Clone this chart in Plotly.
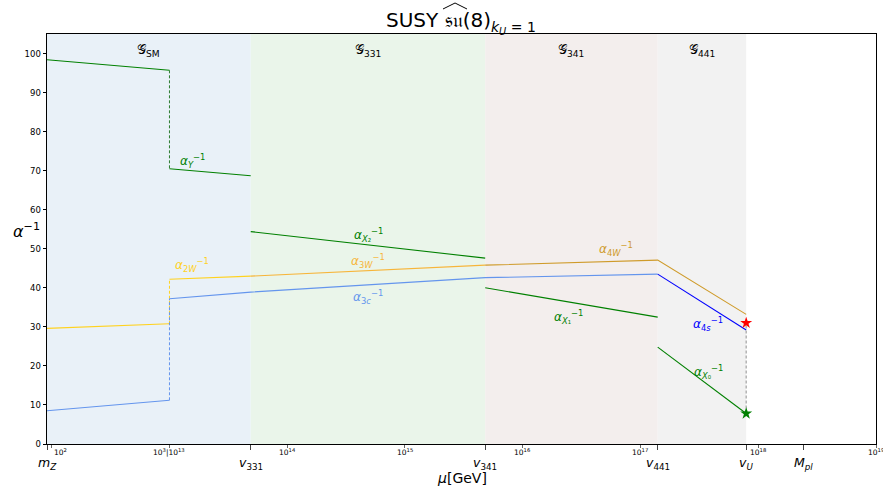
import numpy as np
import plotly.graph_objects as go

# ---- scales (GeV) ----
MZ = 91.19
V331 = 4.9e13
V341 = 4.8e15
V441 = 1.4e17
VU = 7.9e17
MPL = 2.4e18

named_ticks = [MZ, V331, V341, V441, VU, MPL]
named_text = ["<i>m</i><sub><i>Z</i></sub>", "<i>v</i><sub>331</sub>", "<i>v</i><sub>341</sub>",
              "<i>v</i><sub>441</sub>", "<i>v</i><sub><i>U</i></sub>", "<i>M</i><sub><i>pl</i></sub>"]
num_ticks = [1e2, 1e3, 1e14, 1e15, 1e16, 1e17, 1e18, 1e19]
num_text = ["10<sup>2</sup>", "10<sup>3</sup>|10<sup>13</sup>", "10<sup>14</sup>", "10<sup>15</sup>",
            "10<sup>16</sup>", "10<sup>17</sup>", "10<sup>18</sup>", "10<sup>19</sup>"]

# ---- running inverse couplings ----
aY_low_mu, aY_low = [MZ, 1e3], [98.4, 95.7]
aY_jump_mu, aY_jump = [1e3, 1e13], [95.7, 70.5]
aY_high_mu, aY_high = [1e13, V331], [70.5, 68.7]

a2W_low_mu, a2W_low = [MZ, 1e3], [29.6, 30.8]
a2W_jump_mu, a2W_jump = [1e3, 1e13], [30.8, 42.2]
a2W_high_mu, a2W_high = [1e13, V331], [42.2, 43.0]
a3W_mu, a3W = [V331, V341], [43.0, 45.8]
a4W_mu, a4W = [V341, V441, VU], [45.8, 47.1, 33.2]

a3c_low_mu, a3c_low = [MZ, 1e3], [8.5, 11.2]
a3c_jump_mu, a3c_jump = [1e3, 1e13], [11.2, 37.2]
a3c_high_mu, a3c_high = [1e13, V331, V341, V441], [37.2, 38.9, 42.6, 43.5]
a4s_mu, a4s = [V441, VU], [43.5, 29.2]

aX2_mu, aX2 = [V331, V341], [54.4, 47.6]
aX1_mu, aX1 = [V341, V441], [40.0, 32.5]
aX0_mu, aX0 = [V441, VU], [24.8, 7.8]

alphaU_4s = 31.0
alphaU_X0 = 7.8

regions = [MZ, V331, V341, V441, VU]
region_names = ["𝒢<sub>SM</sub>", "𝒢<sub>331</sub>", "𝒢<sub>341</sub>", "𝒢<sub>441</sub>"]
region_colors = ["#e9f1f8", "#eaf5ea", "#f3eeed", "#f2f2f2"]


def tx(mu):
    l = np.log10(np.asarray(mu, dtype=float))
    return np.where(l <= 3.0001, l, l - 10)


FONT = "DejaVu Sans"
GREEN = "green"
GOLD = "#ffd21f"
ORANGE = "#f7b53a"
GOLDENROD = "#cf9b2a"
CBLUE = "cornflowerblue"

fig = go.Figure()


def line(mu, y, color, dash="solid", width=1.1):
    fig.add_trace(go.Scatter(x=tx(mu), y=y, mode="lines",
                             line=dict(color=color, width=width, dash=dash),
                             showlegend=False, hoverinfo="skip"))


line(aY_low_mu, aY_low, GREEN)
line(aY_jump_mu, aY_jump, "#2e7d32", dash="3px,2px", width=1)
line(aY_high_mu, aY_high, GREEN)
line(a2W_low_mu, a2W_low, GOLD)
line(a2W_jump_mu, a2W_jump, GOLD, dash="3px,2px", width=1)
line(a2W_high_mu, a2W_high, GOLD)
line(a3W_mu, a3W, ORANGE)
line(a4W_mu, a4W, GOLDENROD)
line(a3c_low_mu, a3c_low, CBLUE)
line(a3c_jump_mu, a3c_jump, CBLUE, dash="3px,2px", width=1)
line(a3c_high_mu, a3c_high, CBLUE)
line(a4s_mu, a4s, "blue")
line(aX2_mu, aX2, GREEN)
line(aX1_mu, aX1, GREEN)
line(aX0_mu, aX0, GREEN)
line([VU, VU], [alphaU_X0, alphaU_4s], "darkgray", dash="3px,2px", width=1.3)

fig.add_trace(go.Scatter(x=tx([VU]), y=[alphaU_4s], mode="markers",
                         marker=dict(symbol="star", size=9, color="red"),
                         showlegend=False, hoverinfo="skip"))
fig.add_trace(go.Scatter(x=tx([VU]), y=[alphaU_X0], mode="markers",
                         marker=dict(symbol="star", size=9, color="green"),
                         showlegend=False, hoverinfo="skip"))

# regions
rt = tx(regions)
for i in range(4):
    fig.add_shape(type="rect", xref="x", yref="paper", x0=rt[i], x1=rt[i + 1], y0=0, y1=1,
                  fillcolor=region_colors[i], line=dict(width=0), layer="below")
    fig.add_annotation(x=(rt[i] + rt[i + 1]) / 2, y=100.8, xref="x", yref="y",
                       text=region_names[i], showarrow=False,
                       font=dict(family=FONT, size=13, color="black"))

# curve labels: (text, mu, y, color)
labels = [
    ("<i>α</i><sub><i>Y</i></sub><sup>−1</sup>", 10 ** 13.195, 72.6, GREEN),
    ("<i>α</i><sub>2<i>W</i></sub><sup>−1</sup>", 10 ** 13.195, 45.8, GOLD),
    ("<i>α</i><sub><i>X</i>₂</sub><sup>−1</sup>", 10 ** 14.69, 53.5, GREEN),
    ("<i>α</i><sub>3<i>W</i></sub><sup>−1</sup>", 10 ** 14.69, 46.8, ORANGE),
    ("<i>α</i><sub>3<i>c</i></sub><sup>−1</sup>", 10 ** 14.69, 37.6, CBLUE),
    ("<i>α</i><sub>4<i>W</i></sub><sup>−1</sup>", 10 ** 16.795, 49.9, GOLDENROD),
    ("<i>α</i><sub><i>X</i>₁</sub><sup>−1</sup>", 10 ** 16.387, 32.5, GREEN),
    ("<i>α</i><sub>4<i>s</i></sub><sup>−1</sup>", 10 ** 17.576, 30.7, "blue"),
    ("<i>α</i><sub><i>X</i>₀</sub><sup>−1</sup>", 10 ** 17.576, 18.4, GREEN),
]
for text, mu, y, c in labels:
    fig.add_annotation(x=float(tx(mu)), y=y, xref="x", yref="y", text=text, showarrow=False,
                       font=dict(family=FONT, size=12, color=c))

# x tick labels
for mu, t in zip(num_ticks, num_text):
    fig.add_annotation(x=float(tx(mu)), y=0, xref="x", yref="paper", text=t, showarrow=False,
                       yanchor="top", yshift=-1, xanchor="left" if mu == 1e2 else "center",
                       font=dict(family=FONT, size=7.5, color="black"))
for mu, t in zip(named_ticks, named_text):
    fig.add_annotation(x=float(tx(mu)), y=0, xref="x", yref="paper", text=t, showarrow=False,
                       yanchor="top", yshift=-9,
                       font=dict(family=FONT, size=12.5, color="black"))

fig.add_annotation(x=0.5, y=0, xref="paper", yref="paper", text="<i>μ</i>[GeV]", showarrow=False,
                   yanchor="middle", yshift=-34, font=dict(family=FONT, size=14, color="black"))
fig.add_annotation(x=0, y=0.52, xref="paper", yref="paper", text="<i>α</i><sup>−1</sup>",
                   showarrow=False, xanchor="right", xshift=-5,
                   font=dict(family=FONT, size=16, color="black"))

# wide hat over the su in the title
fig.add_shape(type="path", xref="paper", yref="paper",
              path="M {:.4f} {:.4f} L {:.4f} {:.4f} L {:.4f} {:.4f}".format(
                  (443 - 47) / 829, (444 - 9) / 410, (455 - 47) / 829, (444 - 3) / 410,
                  (467 - 47) / 829, (444 - 9) / 410),
              line=dict(color="black", width=1))

fig.update_layout(
    width=883, height=486,
    margin=dict(l=47, r=7, t=34, b=42),
    plot_bgcolor="white", paper_bgcolor="white",
    font=dict(family=FONT, color="black"),
    title=dict(text="SUSY 𝔰𝔲(8)<sub><i>k</i><sub><i>U</i></sub> = 1</sub>", x=0.522, xanchor="center",
               y=0.958, yanchor="middle", font=dict(family=FONT, size=20, color="black")),
    xaxis=dict(range=[float(tx(MZ)), 9], showgrid=False, zeroline=False,
               showline=True, linecolor="black", linewidth=1, mirror=True,
               tickmode="array", tickvals=tx(named_ticks).tolist(), ticktext=[""] * 6,
               ticks="outside", ticklen=5, tickcolor="#444", tickwidth=1,
               minor=dict(tickmode="array", tickvals=tx(num_ticks).tolist(), ticks="outside",
                          ticklen=2.5, tickcolor="#666", tickwidth=0.8)),
    yaxis=dict(range=[0, 105], showgrid=False, zeroline=False,
               showline=True, linecolor="black", linewidth=1, mirror=True,
               tickmode="array", tickvals=list(range(0, 101, 10)),
               ticks="outside", ticklen=3.5, tickcolor="black",
               tickfont=dict(family=FONT, size=8.5, color="black")),
)

fig.write_html("out.html", config={"displayModeBar": False},
               post_script="document.body.style.margin='0';document.body.style.overflow='hidden';")
